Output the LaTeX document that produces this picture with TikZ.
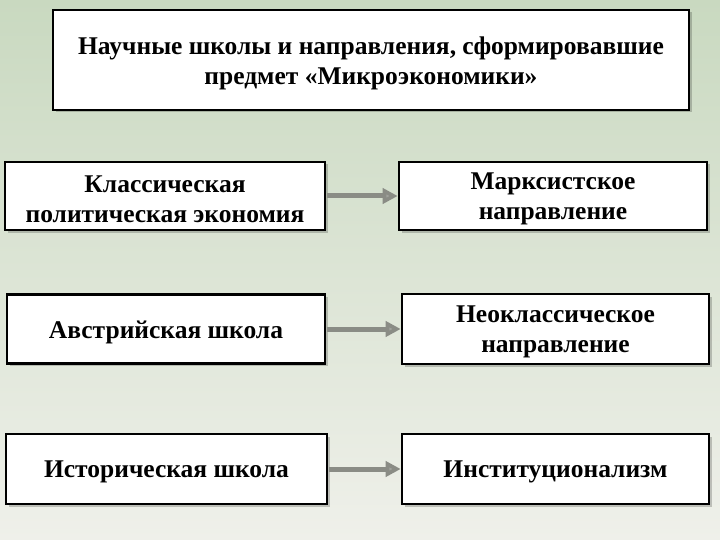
\documentclass[tikz,border=0pt]{standalone}
\usepackage{fontspec}
\setmainfont{Liberation Serif}
\usetikzlibrary{arrows.meta,shadows}
\definecolor{bgtop}{HTML}{C9D9C0}
\definecolor{bgbot}{HTML}{EFF0EA}
\definecolor{arrgray}{HTML}{8A8C85}
\tikzset{
  box/.style={draw=black, line width=2.6pt, fill=white, inner sep=0pt,
    drop shadow={shadow xshift=2.5pt, shadow yshift=-2.5pt, opacity=0.2, fill=black}},
  txt/.style={align=center, inner sep=0pt, yshift=-3pt,
    font=\fontsize{25.5}{30}\selectfont\bfseries},
  arr/.style={line width=5pt, draw=arrgray, -{Triangle[length=15pt,width=15pt,fill=arrgray!80]}, shorten <=1pt, shorten >=0pt}
}
\begin{document}
\begin{tikzpicture}[x=1pt,y=-1pt]
\shade[top color=bgtop, bottom color=bgbot] (0,0) rectangle (720,540);
\useasboundingbox (0,0) rectangle (720,540);
\node[box, minimum width=636pt, minimum height=100pt,
  label={[txt]center:Научные школы и направления, сформировавшие\\предмет «Микроэкономики»}] (t) at (371,60) {};
\node[box, minimum width=320pt, minimum height=68pt,
  label={[txt]center:Классическая\\политическая экономия}] (b1) at (165,196) {};
\node[box, minimum width=308pt, minimum height=68pt,
  label={[txt]center:Марксистское\\направление}] (b2) at (553,196) {};
\node[box, minimum width=318pt, minimum height=69pt,
  label={[txt]center:Австрийская школа}] (b3) at (166,329) {};
\node[box, minimum width=307pt, minimum height=70pt,
  label={[txt]center:Неоклассическое\\направление}] (b4) at (555.5,329) {};
\node[box, minimum width=321pt, minimum height=70pt,
  label={[txt]center:Историческая школа}] (b5) at (166.5,469) {};
\node[box, minimum width=307pt, minimum height=70pt,
  label={[txt]center:Институционализм}] (b6) at (555.5,469) {};
\draw[arr] (b1.east) -- (b2.west);
\draw[arr] (b3.east) -- (b4.west);
\draw[arr] (b5.east) -- (b6.west);
\end{tikzpicture}
\end{document}
